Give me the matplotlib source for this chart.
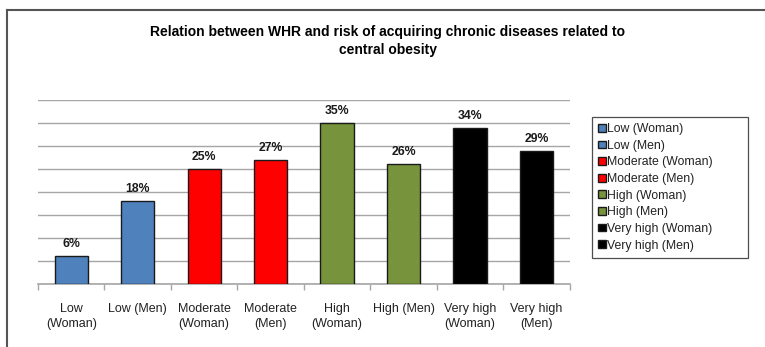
import matplotlib
matplotlib.use('Agg')
import matplotlib.pyplot as plt
import numpy as np
from matplotlib.lines import Line2D

plt.rcParams['font.family'] = ['Liberation Sans', 'DejaVu Sans']

FIGURE_XSIZE = 7.65
FIGURE_YSIZE = 3.47
GRID_RGB = '#A6A6A6'

categories = ['Low\n(Woman)', 'Low (Men)', 'Moderate\n(Woman)', 'Moderate\n(Men)',
              'High\n(Woman)', 'High (Men)', 'Very high\n(Woman)', 'Very high\n(Men)']
legend_labels = ['Low (Woman)', 'Low (Men)', 'Moderate (Woman)', 'Moderate (Men)',
                 'High (Woman)', 'High (Men)', 'Very high (Woman)', 'Very high (Men)']
values = [6, 18, 25, 27, 35, 26, 34, 29]
bar_colors = ['#4F81BD', '#4F81BD', '#FF0000', '#FF0000',
              '#77933C', '#77933C', '#000000', '#000000']

figure = plt.figure(figsize=(FIGURE_XSIZE, FIGURE_YSIZE), dpi=100, facecolor='white')
axes = figure.add_axes([0.0497, 0.1816, 0.695, 0.530])

x = np.arange(len(values))
for i in range(len(values)):
    axes.bar(x[i], values[i], width=0.5, color=bar_colors[i], edgecolor='#1a1a1a',
             linewidth=1.0, label=legend_labels[i], zorder=3)
    axes.text(x[i], values[i] + 1.3, f"{values[i]}%", ha='center', va='bottom',
              fontsize=8.8, fontweight='bold', color='#1a1a1a')

axes.set_xlim(-0.5, len(values) - 0.5)
axes.set_ylim(0, 40)
axes.set_yticks(np.arange(0, 41, 5))
axes.yaxis.grid(True, color=GRID_RGB, linewidth=1.0, zorder=0)
axes.tick_params(axis='y', length=0, labelleft=False)

axes.set_xticks(x)
axes.set_xticklabels(categories, fontsize=9, color='#222222', linespacing=1.3)
axes.tick_params(axis='x', which='major', length=0, pad=14)
axes.set_xticks(np.arange(-0.5, len(values), 1.0), minor=True)
axes.tick_params(axis='x', which='minor', length=4, color=GRID_RGB, width=1.0)

for side in ['top', 'right', 'left']:
    axes.spines[side].set_visible(False)
axes.spines['bottom'].set_color(GRID_RGB)
axes.spines['bottom'].set_linewidth(1.2)

figure.text(0.507, 0.883, 'Relation between WHR and risk of acquiring chronic diseases related to\ncentral obesity',
            ha='center', va='center', fontsize=10, fontweight='bold', linespacing=1.35)

legend = axes.legend(loc='upper left', bbox_to_anchor=(0.774, 0.262, 0.204, 0.401),
                     bbox_transform=figure.transFigure, mode='expand',
                     borderaxespad=0, fontsize=8.8, frameon=True, fancybox=False,
                     edgecolor='#222222', handlelength=0.6, handleheight=0.6,
                     handletextpad=0.15, labelspacing=0.38, borderpad=0.5)
legend.get_frame().set_linewidth(0.9)
for text in legend.get_texts():
    text.set_color('#222222')

# outer chart border (top and left edges only visible)
figure.add_artist(Line2D([7 / 765, 7 / 765], [0, 1 - 10 / 347], color='#555555', linewidth=1.5))
figure.add_artist(Line2D([7 / 765, 1], [1 - 10 / 347, 1 - 10 / 347], color='#555555', linewidth=1.5))

figure.savefig('out.png', dpi=100)
